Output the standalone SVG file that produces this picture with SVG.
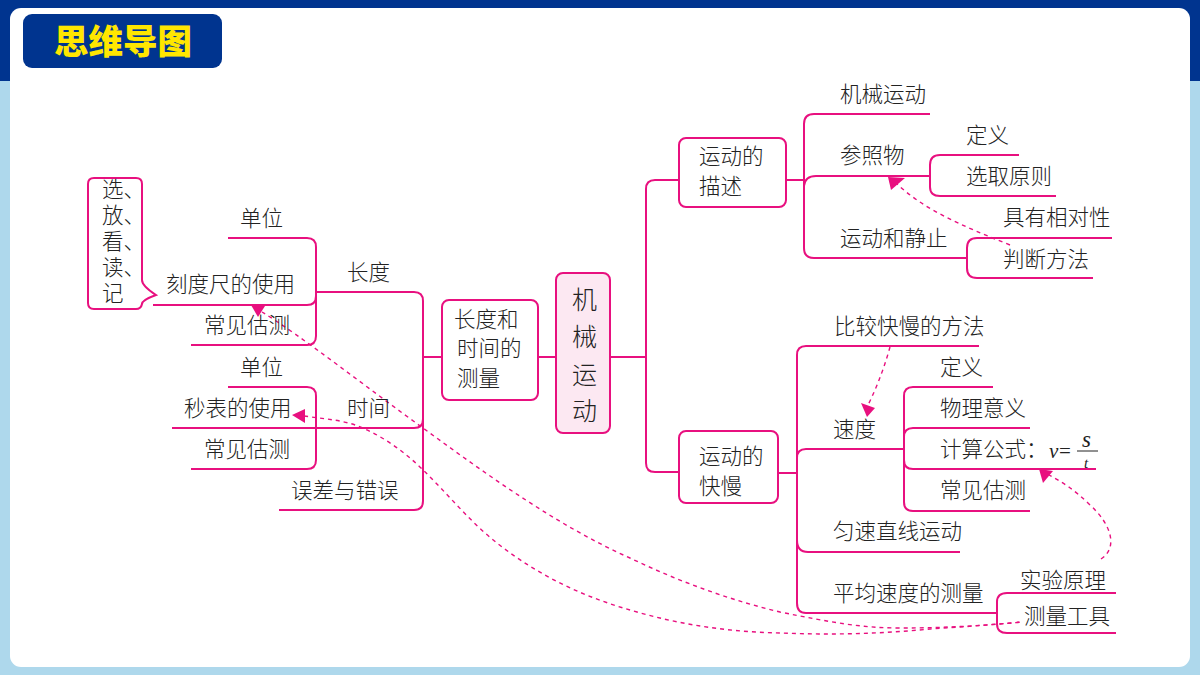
<svg xmlns="http://www.w3.org/2000/svg" width="1200" height="675" viewBox="0 0 1200 675">
<style>
text{font-family:"Noto Sans CJK SC","Noto Sans CJK JP",sans-serif;fill:#222;font-size:21.5px;font-weight:300}
.ln{fill:none;stroke:#e8107f;stroke-width:2}
.box{fill:#fff;stroke:#e8107f;stroke-width:2}
.dash{fill:none;stroke:#e8107f;stroke-width:1.4;stroke-dasharray:4 4}
.head{fill:#e8107f}
text.m{font-family:"Liberation Serif",serif;font-style:italic;font-weight:400}
</style>
<rect width="1200" height="675" fill="#aed8ec"/>
<rect width="1200" height="81" fill="#00348f"/>
<rect x="10" y="8" width="1180" height="659" rx="11" fill="#fff"/>
<g id="title"><rect x="23" y="14" width="199" height="54" rx="9" fill="#00348f"/>
<text x="123" y="54" text-anchor="middle" style="font-size:34.5px;font-weight:900;fill:#ffe600">思维导图</text></g>
<g id="connectors">
<path class="ln" d="M228,238H307Q316,238 316,247V336Q316,345 307,345H191"/>
<path class="ln" d="M153,305H307Q316,305 316,296V292"/>
<path class="ln" d="M316,292H414Q423,292 423,301V501Q423,510 414,510H279"/>
<path class="ln" d="M172,428H414Q423,428 423,419"/>
<path class="ln" d="M228,387H307Q316,387 316,396V460Q316,469 307,469H191"/>
<path class="ln" d="M423,357H442M538,357H556M610,357H646"/>
<path class="ln" d="M679,180H655Q646,180 646,189V463Q646,472 655,472H679"/>
<path class="ln" d="M786,180H804M778,473H797"/>
<path class="ln" d="M930,114H814Q804,114 804,124V248Q804,258 814,258H967"/>
<path class="ln" d="M804,186Q805,176 816,176H930"/>
<path class="ln" d="M1019,155H940Q930,155 930,165V187Q930,196 940,196H1056"/>
<path class="ln" d="M1112,238H977Q967,238 967,248V268Q967,278 977,278H1093"/>
<path class="ln" d="M979,346H806Q797,346 797,355V603Q797,613 806,613H997"/>
<path class="ln" d="M797,458Q797,449 806,449H904"/>
<path class="ln" d="M797,540Q797,552 808,552H960"/>
<path class="ln" d="M993,387H913Q904,387 904,396V502Q904,511 913,511H1030"/>
<path class="ln" d="M1030,428H913Q904,428 904,437"/>
<path class="ln" d="M904,460Q904,469 913,469H1096"/>
<path class="ln" d="M1116,593H1007Q997,593 997,602V624Q997,633 1007,633H1116"/>
<line x1="1077" y1="451" x2="1098" y2="451" stroke="#222" stroke-width="1"/>
<path class="dash" d="M1010,245C960,225 925,210 897,184"/>
<path class="dash" d="M890,347C885,365 878,385 868,405"/>
<path class="dash" d="M1101,559C1118,548 1112,525 1090,505C1075,490 1062,482 1049,475"/>
<path class="dash" d="M262,312C300,335 370,390 423,428C490,477 560,527 630,558C680,582 730,600 780,612C830,622 860,628 900,628C950,628 990,625 1022,622"/>
<path class="dash" d="M304,416C325,419 345,420 363,428C385,438 405,452 423,470C447,493 470,522 497,543C540,577 585,597 630,610C680,625 730,632 780,633C830,635 880,634 930,629C960,627 990,625 1022,622"/>
<path class="head" d="M888,177L905,178L891,190Z"/>
<path class="head" d="M867,417L861,403L875,408Z"/>
<path class="head" d="M1039,469L1053,471L1043,483Z"/>
<path class="head" d="M251,305L265,306L258,317Z"/>
<path class="head" d="M292,415L305,409L305,423Z"/>
</g>
<g id="callout"><path class="box" d="M94,178H136Q142,178 142,184V280Q142,286 156,295Q142,300 142,304Q141,309 136,309H94Q88,309 88,303V184Q88,178 94,178Z"/>
<text y="197"><tspan x="102">选、</tspan><tspan x="102" dy="26">放、</tspan><tspan x="102" dy="26">看、</tspan><tspan x="102" dy="26">读、</tspan><tspan x="102" dy="26">记</tspan></text></g>
<g id="n-left" transform="translate(-1,0)">
<text x="241" y="226">单位</text><text x="167" y="292">刻度尺的使用</text><text x="205" y="333">常见估测</text><text x="348" y="280">长度</text>
<text x="241" y="375">单位</text><text x="185" y="416">秒表的使用</text><text x="348" y="416">时间</text><text x="205" y="457">常见估测</text><text x="292" y="498">误差与错误</text>
</g>
<g id="n-length"><rect class="box" x="442" y="300" width="96" height="100" rx="7"/>
<text x="454" y="327">长度和</text><text x="457" y="356">时间的</text><text x="457" y="386">测量</text></g>
<g id="n-root"><rect class="box" x="556" y="273" width="54" height="160" rx="7" style="fill:#fce8f2"/>
<text x="572" y="309" style="font-size:25px">机</text><text x="572" y="346" style="font-size:25px">械</text><text x="572" y="384" style="font-size:25px">运</text><text x="572" y="420" style="font-size:25px">动</text></g>
<g id="n-desc"><rect class="box" x="679" y="138" width="107" height="69" rx="7"/><text x="699" y="164">运动的</text><text x="699" y="194">描述</text></g>
<g id="n-speed"><rect class="box" x="679" y="431" width="99" height="72" rx="7"/><text x="699" y="464">运动的</text><text x="699" y="494">快慢</text></g>
<g id="n-right" transform="translate(-1,0)">
<text x="841" y="102">机械运动</text><text x="841" y="163">参照物</text><text x="967" y="143">定义</text><text x="967" y="184">选取原则</text><text x="1004" y="225">具有相对性</text><text x="841" y="246">运动和静止</text><text x="1004" y="267">判断方法</text>
<text x="835" y="334">比较快慢的方法</text><text x="941" y="375">定义</text><text x="941" y="416">物理意义</text><text x="941" y="457">计算公式：</text><text x="834" y="437">速度</text><text x="941" y="498">常见估测</text><text x="834" y="539">匀速直线运动</text><text x="834" y="601">平均速度的测量</text><text x="1021" y="588">实验原理</text><text x="1025" y="624">测量工具</text>
<text class="m" x="1050" y="458" style="font-size:21px">v</text><text x="1060" y="458" style="font-family:'Liberation Serif',serif;font-size:21px;font-weight:400">=</text><text class="m" x="1083" y="447" style="font-size:23px">s</text><text class="m" x="1085" y="468" style="font-size:15px">t</text>
</g>
</svg>
